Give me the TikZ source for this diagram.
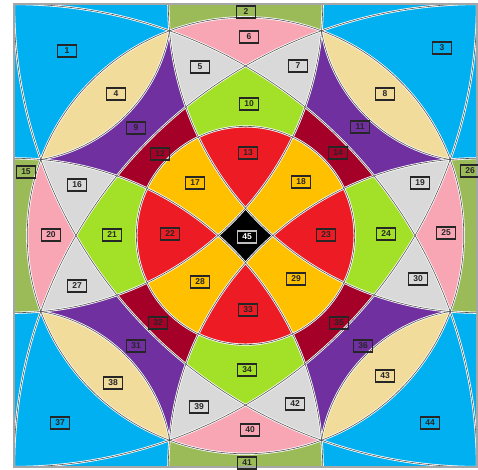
\documentclass[tikz,border=0pt]{standalone}
\usepackage{fontspec}
\setmainfont{Liberation Sans}
\definecolor{cblue}{RGB}{0,176,240}
\definecolor{cstrip}{RGB}{155,187,89}
\definecolor{cpink}{RGB}{248,166,180}
\definecolor{ctan}{RGB}{242,220,155}
\definecolor{cgrey}{RGB}{217,217,217}
\definecolor{cpurple}{RGB}{112,48,160}
\definecolor{cgreen}{RGB}{163,224,40}
\definecolor{cdred}{RGB}{165,0,40}
\definecolor{cred}{RGB}{237,28,36}
\definecolor{corange}{RGB}{255,192,0}
\definecolor{cline}{RGB}{85,85,85}
\newcommand\pairfill[1]{%
  \foreach \ax/\ay/\bx/\by in {-1/-1/1/-1, 1/-1/1/1, 1/1/-1/1, -1/1/-1/-1}{%
    \begin{scope}\clip (\ax,\ay) circle (1.333333);\fill[#1] (\bx,\by) circle (1.333333);\end{scope}}}
\begin{document}
\begin{tikzpicture}[x=1pt,y=-1pt,
  lab/.style={draw=black!85,line width=1.1pt,minimum width=19pt,minimum height=12pt,inner sep=0pt,font=\bfseries\fontsize{8.5}{9}\selectfont,text=black!85},
  halo/.style={white,line width=2.2pt},
  edge/.style={cline,line width=0.6pt}]
\useasboundingbox (0,0) rectangle (478,469);
\begin{scope}[shift={(245.5,235.5)},scale=231.5]
 \begin{scope}
  \clip (-1,-1) rectangle (1,1);
  \fill[cblue] (-1,-1) rectangle (1,1);
  \pairfill{cstrip}
  \begin{scope}
   \clip (0,0) circle (0.942809);
   \fill[cpink] (-1,-1) rectangle (1,1);
   % sectors
   \begin{scope}
    \clip (-1,-1) circle (2); \clip (1,-1) circle (2); \clip (1,1) circle (2);
    \fill[cpurple] (-1,-1) rectangle (1,1); \pairfill{cgrey}
   \end{scope}
   \begin{scope}
    \clip (1,-1) circle (2); \clip (1,1) circle (2); \clip (-1,1) circle (2);
    \fill[cpurple] (-1,-1) rectangle (1,1); \pairfill{cgrey}
   \end{scope}
   \begin{scope}
    \clip (1,1) circle (2); \clip (-1,1) circle (2); \clip (-1,-1) circle (2);
    \fill[cpurple] (-1,-1) rectangle (1,1); \pairfill{cgrey}
   \end{scope}
   \begin{scope}
    \clip (-1,1) circle (2); \clip (-1,-1) circle (2); \clip (1,-1) circle (2);
    \fill[cpurple] (-1,-1) rectangle (1,1); \pairfill{cgrey}
   \end{scope}
   % lenses
   \fill[ctan] (-1,-1) circle (0.681711);
   \fill[ctan] (1,-1) circle (0.681711);
   \fill[ctan] (1,1) circle (0.681711);
   \fill[ctan] (-1,1) circle (0.681711);
   % central
   \begin{scope}
    \clip (-1,-1) circle (2); \clip (1,-1) circle (2); \clip (1,1) circle (2); \clip (-1,1) circle (2);
    \fill[cdred] (-1,-1) rectangle (1,1);
    \pairfill{cgreen}
    \fill[black] (0,0) circle (0.471405);
    \begin{scope}
     \clip (0,0) circle (0.471405);
     \foreach \cx/\cy in {-1/-1,1/-1,1/1,-1/1}{\fill[corange] (\cx,\cy) circle (1.333333);}
     \pairfill{cred}
    \end{scope}
   \end{scope}
  \end{scope}
  % boundary lines
  \foreach \st in {halo,edge}{
   \draw[\st] (0,0) circle (0.942809);
   \draw[\st] (0,0) circle (0.471405);
   \foreach \cx/\cy in {-1/-1,1/-1,1/1,-1/1}{
     \draw[\st] (\cx,\cy) circle (2);
     \draw[\st] (\cx,\cy) circle (1.333333);}
   \begin{scope}
    \clip (0,0) circle (0.942809);
    \foreach \cx/\cy in {-1/-1,1/-1,1/1,-1/1}{\draw[\st] (\cx,\cy) circle (0.681711);}
   \end{scope}
  }
 \end{scope}
 \draw[gray!70,line width=1.2pt] (-1,-1) rectangle (1,1);
\end{scope}
% labels
\node[lab] (l1) at (67,51) {1};
\node[lab] (l2) at (246,12) {2};
\node[lab] (l3) at (442,48) {3};
\node[lab] (l4) at (116,94) {4};
\node[lab] (l5) at (200,67) {5};
\node[lab] (l6) at (249,37) {6};
\node[lab] (l7) at (298,66) {7};
\node[lab] (l8) at (385,94) {8};
\node[lab] (l9) at (136,128) {9};
\node[lab] (l10) at (249,104) {10};
\node[lab] (l11) at (360,127) {11};
\node[lab] (l12) at (160,154) {12};
\node[lab] (l13) at (248,153) {13};
\node[lab] (l14) at (338,153) {14};
\node[lab] (l15) at (26,172) {15};
\node[lab] (l16) at (77,185) {16};
\node[lab] (l17) at (195,183) {17};
\node[lab] (l18) at (301,182) {18};
\node[lab] (l19) at (420,183) {19};
\node[lab] (l20) at (51,235) {20};
\node[lab] (l21) at (112,235) {21};
\node[lab] (l22) at (170,234) {22};
\node[lab] (l23) at (326,235) {23};
\node[lab] (l24) at (386,234) {24};
\node[lab] (l25) at (446,233) {25};
\node[lab] (l26) at (470,171) {26};
\node[lab] (l27) at (77,286) {27};
\node[lab] (l28) at (200,282) {28};
\node[lab] (l29) at (296,279) {29};
\node[lab] (l30) at (418,279) {30};
\node[lab] (l31) at (136,346) {31};
\node[lab] (l32) at (158,323) {32};
\node[lab] (l33) at (248,310) {33};
\node[lab] (l34) at (247,370) {34};
\node[lab] (l35) at (339,323) {35};
\node[lab] (l36) at (363,346) {36};
\node[lab] (l37) at (60,423) {37};
\node[lab] (l38) at (113,383) {38};
\node[lab] (l39) at (199,407) {39};
\node[lab] (l40) at (250,430) {40};
\node[lab] (l41) at (247,463) {41};
\node[lab] (l42) at (295,404) {42};
\node[lab] (l43) at (385,376) {43};
\node[lab] (l44) at (430,423) {44};
\node[lab,fill=black,text=white,draw=gray!50] (l45) at (247,237) {45};
\end{tikzpicture}
\end{document}
